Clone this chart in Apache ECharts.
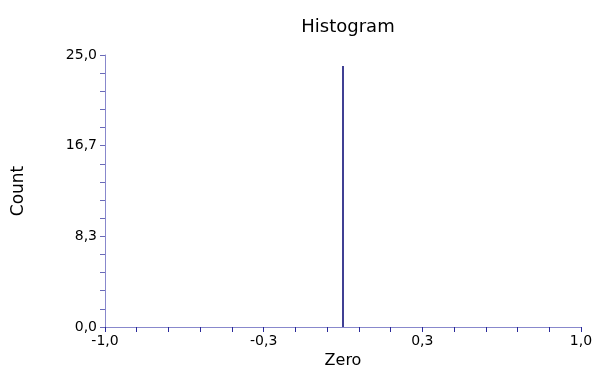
<!DOCTYPE html>
<html>
<head>
<meta charset="utf-8">
<script src="https://cdn.jsdelivr.net/npm/echarts@6/dist/echarts.min.js"></script>
<style>html,body{margin:0;padding:0;background:#fff}#c{width:593px;height:369px}</style>
</head>
<body>
<div id="c"></div>
<script>
var binCenters = [0.0];
var counts = [24];
var xTickValues = [-1, -13/15, -11/15, -9/15, -7/15, -1/3, -3/15, -1/15, 1/15, 3/15, 1/3, 7/15, 9/15, 11/15, 13/15, 1];
var xLabelValues = [-1, -1/3, 1/3, 1];
var yTickValues = [0, 5/3, 10/3, 5, 20/3, 25/3, 10, 35/3, 40/3, 15, 50/3, 55/3, 20, 65/3, 70/3, 25];
var yLabelValues = [0, 25/3, 50/3, 25];

function fmt(v){ return v.toFixed(1).replace('.', ','); }

var FONT = 'DejaVu Sans';
var chart = echarts.init(document.getElementById('c'));
chart.setOption({
  animation: false,
  backgroundColor: '#fff',
  title: {
    text: 'Histogram', left: 343, top: 13, textAlign: 'center',
    textStyle: {fontFamily: FONT, fontSize: 18, fontWeight: 'normal', color: '#000'}
  },
  grid: {left: 105, right: 12, top: 55, bottom: 42, containLabel: false, outerBoundsMode: 'none'},
  xAxis: {
    type: 'value', min: -1, max: 1,
    name: 'Zero', nameLocation: 'middle', nameGap: 26,
    nameTextStyle: {fontFamily: FONT, fontSize: 16, color: '#000'},
    axisLine: {show: true, onZero: false, lineStyle: {color: '#8888cc', width: 1}},
    axisTick: {show: true, length: 5, customValues: xTickValues, lineStyle: {color: '#2a2a9a'}},
    axisLabel: {customValues: xLabelValues, formatter: fmt, margin: 7,
      fontFamily: FONT, fontSize: 14, color: '#000'},
    splitLine: {show: false}
  },
  yAxis: {
    type: 'value', min: 0, max: 25,
    name: 'Count', nameLocation: 'middle', nameGap: 78, nameRotate: 90,
    nameTextStyle: {fontFamily: FONT, fontSize: 17, color: '#000'},
    axisLine: {show: true, onZero: false, lineStyle: {color: '#8888cc', width: 1}},
    axisTick: {show: true, length: 5, customValues: yTickValues, lineStyle: {color: '#6a6ab8'}},
    axisLabel: {customValues: yLabelValues, formatter: fmt, margin: 8,
      fontFamily: FONT, fontSize: 14, color: '#000'},
    splitLine: {show: false}
  },
  series: [{
    type: 'bar',
    data: binCenters.map(function(x, i){ return [x, counts[i]]; }),
    barWidth: 1.5,
    itemStyle: {color: '#000070'}
  }]
});
</script>
</body>
</html>
